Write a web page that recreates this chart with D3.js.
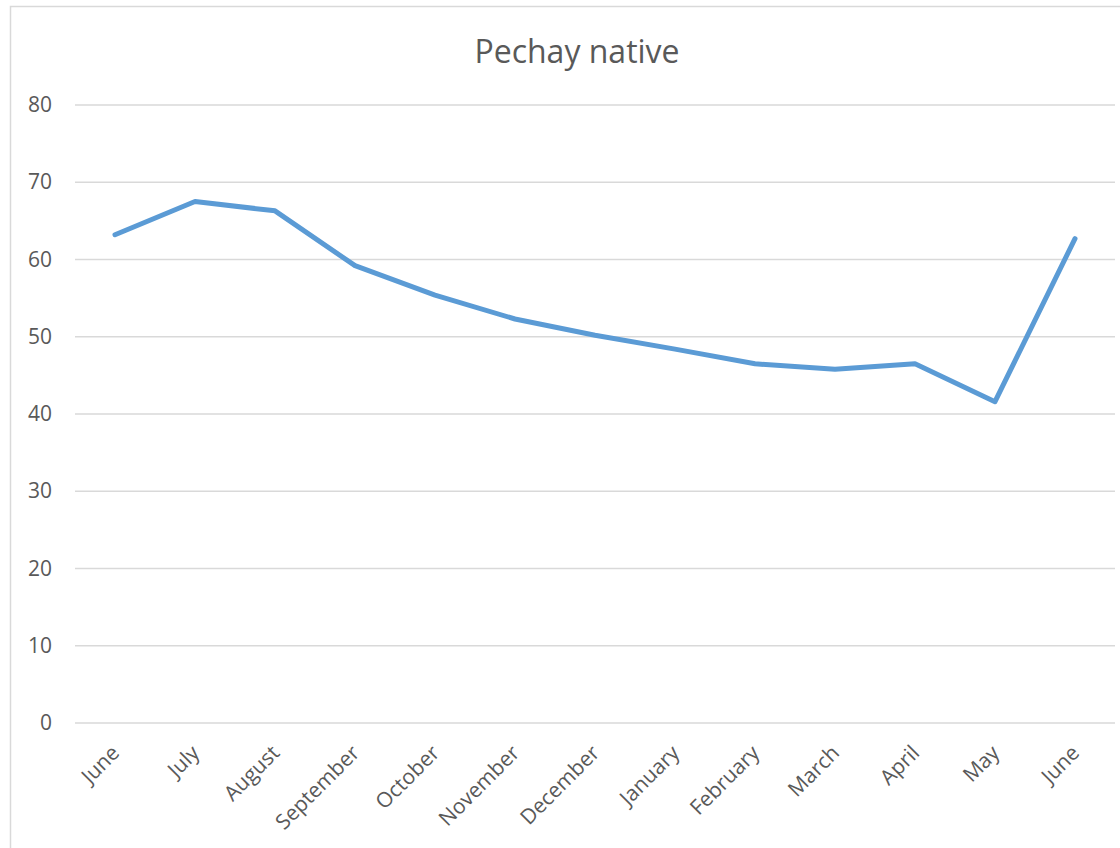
<!DOCTYPE html>
<html>
<head>
<meta charset="utf-8">
<script src="https://cdnjs.cloudflare.com/ajax/libs/d3/7.8.5/d3.min.js"></script>
<style>
	body { margin: 0; background: #fff; }
	text { font-family: "Open Sans", sans-serif; fill: #595959; }
</style>
</head>
<body>
<div id="chart"></div>
<script>
'use strict'

var months = ["June", "July", "August", "September", "October", "November", "December",
	"January", "February", "March", "April", "May", "June"];
var values = [63.2, 67.5, 66.3, 59.2, 55.4, 52.3, 50.2, 48.4, 46.5, 45.8, 46.5, 41.6, 62.7];
var yTicks = [0, 10, 20, 30, 40, 50, 60, 70, 80];
var title = "Pechay native";

var width = 1120;
var height = 848;
var margin = { left: 75, right: 1115, top: 105, bottom: 723 };

var svg = d3.select("#chart")
	.append('svg')
	.attr("width", width)
	.attr("height", height);

// cadre
svg.append("rect")
	.attr("x", 10.5).attr("y", 6.5)
	.attr("width", 1120).attr("height", 860)
	.attr("fill", "none")
	.attr("stroke", "#d9d9d9")
	.attr("stroke-width", 1.5);

var x = d3.scalePoint()
	.domain(d3.range(months.length))
	.range([margin.left, margin.right])
	.padding(0.5);

var y = d3.scaleLinear()
	.domain([0, 80])
	.range([margin.bottom, margin.top]);

// grille
svg.append("g")
	.selectAll("line")
	.data(yTicks)
	.enter()
	.append("line")
		.attr("x1", margin.left)
		.attr("x2", margin.right)
		.attr("y1", d => y(d))
		.attr("y2", d => y(d))
		.attr("stroke", "#d9d9d9")
		.attr("stroke-width", 1.3);

// axe y
var yAxis = svg.append("g")
	.attr("transform", `translate(${margin.left - 23},0)`)
	.call(d3.axisLeft(y).tickValues(yTicks).tickSize(0).tickPadding(0));
yAxis.select(".domain").remove();
yAxis.selectAll("text")
	.style("font-size", "21px")
	.style("fill", "#595959");

// axe x
var xAxis = svg.append("g")
	.attr("transform", `translate(0,${margin.bottom})`)
	.call(d3.axisBottom(x).tickFormat(i => months[i]).tickSize(0));
xAxis.select(".domain").remove();
xAxis.selectAll("text")
	.style("font-size", "21px")
	.style("fill", "#595959")
	.attr("y", 0)
	.attr("dy", "0.35em")
	.attr("text-anchor", "end")
	.attr("transform", "translate(0,26) rotate(-45)");

// courbe
var line = d3.line()
	.x((d, i) => x(i))
	.y(d => y(d));

svg.append("path")
	.datum(values)
	.attr("d", line)
	.attr("fill", "none")
	.attr("stroke", "#5b9bd5")
	.attr("stroke-width", 5)
	.attr("stroke-linecap", "round")
	.attr("stroke-linejoin", "round");

// titre
svg.append("text")
	.attr("x", 577)
	.attr("y", 63)
	.attr("text-anchor", "middle")
	.style("font-size", "32px")
	.text(title);
</script>
</body>
</html>
